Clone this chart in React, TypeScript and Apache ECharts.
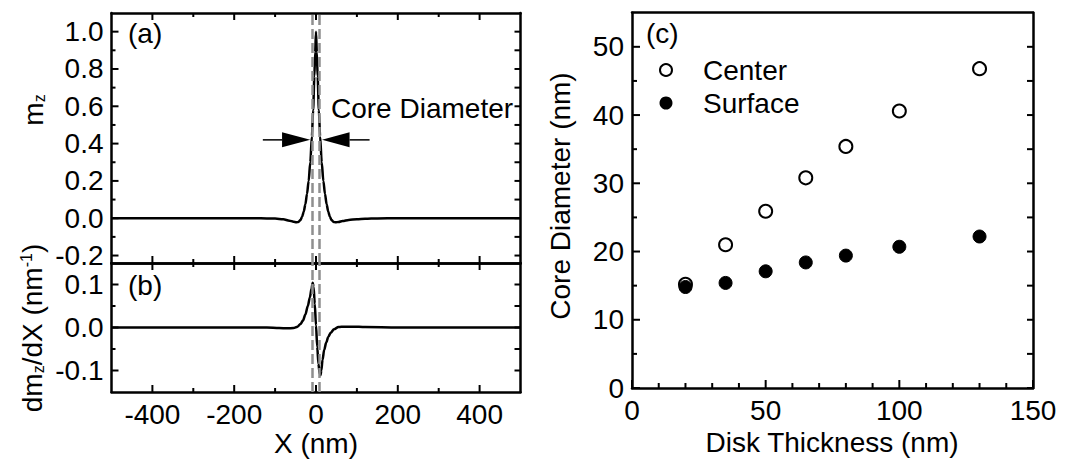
import React, { useEffect, useRef } from 'react';
import * as echarts from 'echarts';

// ---- data: panel (a) m_z profile ----
const profileX = [-500, -300, -200, -150, -120, -100, -80, -65, -55, -48, -43, -38, -34, -30, -26, -22, -18, -14, -10, -7, -4, -2, 0, 2, 4, 7, 10, 14, 18, 22, 26, 30, 34, 38, 43, 48, 55, 65, 80, 100, 120, 150, 200, 300, 500];
const mzValues = [0, 0, 0, 0, -0.001, -0.002, -0.006, -0.013, -0.019, -0.022, -0.02, -0.01, 0.008, 0.035, 0.075, 0.13, 0.2, 0.3, 0.44, 0.58, 0.76, 0.89, 1.0, 0.89, 0.76, 0.58, 0.44, 0.3, 0.2, 0.13, 0.075, 0.035, 0.008, -0.01, -0.02, -0.022, -0.02, -0.015, -0.009, -0.005, -0.003, -0.001, 0, 0, 0];

// ---- data: panel (b) dm_z/dX ----
const derivX = [-500, -200, -120, -90, -70, -55, -45, -38, -32, -26, -20, -15, -11, -8, -6, -3, 0, 3, 6, 9, 11, 13, 16, 20, 25, 30, 36, 44, 55, 70, 90, 120, 200, 500];
const dmzValues = [0, 0, 0, -0.001, -0.002, -0.001, 0.002, 0.008, 0.016, 0.03, 0.05, 0.07, 0.09, 0.104, 0.095, 0.055, 0.005, -0.045, -0.085, -0.108, -0.111, -0.1, -0.075, -0.052, -0.035, -0.022, -0.012, -0.004, 0.001, 0.002, 0.002, 0.001, 0, 0];

// dashed core boundary lines and arrows
const coreLinesX = [-9, 9];
const arrowLevel = 0.42;
const arrowTips = [-14, 14.7];
const arrowHeadBases = [-83, 82];
const arrowTails = [-130, 131];

// ---- data: panel (c) ----
const thickness = [20, 35, 50, 65, 80, 100, 130];
const centerDiameter = [15.2, 21.0, 25.9, 30.8, 35.4, 40.6, 46.8];
const surfaceDiameter = [14.8, 15.4, 17.1, 18.4, 19.4, 20.7, 22.2];

// ---- axis ranges ----
const xRangeAB = [-500, 500];
const mzRange = [-0.24, 1.1];
const dmzRange = [-0.15, 0.15];
const cXRange = [0, 150];
const cYRange = [0, 55];

// ---- tick values / labels ----
const xTicksMajor = [-400, -200, 0, 200, 400];
const xTicksMinor = [-300, -100, 100, 300];
const mzTicksMajor = [-0.2, 0, 0.2, 0.4, 0.6, 0.8, 1.0];
const mzTicksMinor = [-0.1, 0.1, 0.3, 0.5, 0.7, 0.9];
const dmzTicksMajor = [-0.1, 0, 0.1];
const dmzTicksMinor = [-0.05, 0.05];
const cXMajor = [0, 50, 100, 150];
const cXMinor = [10, 20, 30, 40, 60, 70, 80, 90, 110, 120, 130, 140];
const cYMajor = [0, 10, 20, 30, 40, 50];
const cYMinor = [5, 15, 25, 35, 45];

const FONT = "'Liberation Sans', Arial, Helvetica, sans-serif";
const FS = 28;

function mkAxis(gridIndex: number, position: string, range: number[], labels: number[] | null, digits: number) {
  return {
    type: 'value',
    gridIndex,
    position,
    min: range[0],
    max: range[1],
    axisLine: { show: true, onZero: false, lineStyle: { color: '#000', width: 2.5 } },
    splitLine: { show: false },
    axisTick: { show: false },
    axisLabel: labels
      ? { show: true, customValues: labels, fontSize: FS, fontFamily: FONT, color: '#000', margin: 8, formatter: (v: number) => v.toFixed(digits) }
      : { show: false },
  };
}

// tick spec: [gridIndex, direction (0 = x tick, 1 = y tick), value, length, sign (+1 inward from bottom/left, -1 from top/right), edge value]
type TickSpec = number[];
function tickItems(grid: number, values: number[], dir: number, len: number, sign: number, edge: number): TickSpec[] {
  return values.map((v) => [grid, dir, v, len, sign, edge]);
}

function tickRect(p: number[], dir: number, len: number, sign: number) {
  if (dir === 0) {
    return { type: 'rect', shape: { x: p[0] - 1, y: sign > 0 ? p[1] - len : p[1], width: 2, height: len }, style: { fill: '#000' } };
  }
  return { type: 'rect', shape: { x: sign > 0 ? p[0] : p[0] - len, y: p[1] - 1, width: len, height: 2 }, style: { fill: '#000' } };
}

export default function App() {
  const ref = useRef<HTMLDivElement>(null);
  useEffect(() => {
    if (!ref.current) return;
    const chart = echarts.init(ref.current, undefined, { renderer: 'svg' });
    const xAxis = [
      mkAxis(0, 'bottom', xRangeAB, null, 0),
      mkAxis(0, 'top', xRangeAB, null, 0),
      mkAxis(1, 'bottom', xRangeAB, xTicksMajor, 0),
      mkAxis(1, 'top', xRangeAB, null, 0),
      mkAxis(2, 'bottom', cXRange, cXMajor, 0),
      mkAxis(2, 'top', cXRange, null, 0),
    ];
    const yAxis = [
      mkAxis(0, 'left', mzRange, mzTicksMajor, 1),
      mkAxis(0, 'right', mzRange, null, 1),
      mkAxis(1, 'left', dmzRange, dmzTicksMajor, 1),
      mkAxis(1, 'right', dmzRange, null, 1),
      mkAxis(2, 'left', cYRange, cYMajor, 0),
      mkAxis(2, 'right', cYRange, null, 0),
    ];
    const MAJ = 7, MIN = 4, RT = 6;
    const ticks: TickSpec[] = [
      ...tickItems(0, xTicksMajor, 0, MAJ, 1, mzRange[0]), ...tickItems(0, xTicksMajor, 0, MAJ, -1, mzRange[1]),
      ...tickItems(0, xTicksMinor, 0, MIN, 1, mzRange[0]), ...tickItems(0, xTicksMinor, 0, MIN, -1, mzRange[1]),
      ...tickItems(0, mzTicksMajor, 1, MAJ, 1, xRangeAB[0]), ...tickItems(0, mzTicksMinor, 1, MIN, 1, xRangeAB[0]),
      ...tickItems(0, mzTicksMajor, 1, RT, -1, xRangeAB[1]), ...tickItems(0, mzTicksMinor, 1, RT, -1, xRangeAB[1]),
      ...tickItems(1, xTicksMajor, 0, MAJ, 1, dmzRange[0]), ...tickItems(1, xTicksMajor, 0, MAJ, -1, dmzRange[1]),
      ...tickItems(1, xTicksMinor, 0, MIN, 1, dmzRange[0]), ...tickItems(1, xTicksMinor, 0, MIN, -1, dmzRange[1]),
      ...tickItems(1, dmzTicksMajor, 1, MAJ, 1, xRangeAB[0]), ...tickItems(1, dmzTicksMinor, 1, MIN, 1, xRangeAB[0]),
      ...tickItems(1, dmzTicksMajor, 1, RT, -1, xRangeAB[1]), ...tickItems(1, dmzTicksMinor, 1, RT, -1, xRangeAB[1]),
      ...tickItems(2, cXMajor, 0, 8, 1, cYRange[0]), ...tickItems(2, cXMinor, 0, 5, 1, cYRange[0]),
      ...tickItems(2, cYMajor, 1, 8, 1, cXRange[0]), ...tickItems(2, cYMinor, 1, 5, 1, cXRange[0]),
      ...tickItems(2, cYMajor, 1, RT, -1, cXRange[1]), ...tickItems(2, cYMinor, 1, RT, -1, cXRange[1]),
    ];
    const gridBase = { show: false, containLabel: false };
    const dashed = {
      silent: true,
      symbol: ['none', 'none'],
      label: { show: false },
      lineStyle: { color: '#8f8f8f', type: [10, 4], width: 2.5 },
      data: coreLinesX.map((x) => ({ xAxis: x })),
    };
    const arrowData = arrowTips.map((t, i) => [t, arrowHeadBases[i], arrowTails[i], arrowLevel]);
    const sub = { fontSize: 16, fontFamily: FONT, lineHeight: 16, padding: [16, 0, 0, 0], verticalAlign: 'bottom', fill: '#000' };
    const norm = { fontSize: FS, fontFamily: FONT, lineHeight: 28, verticalAlign: 'top', fill: '#000' };
    const sup = { fontSize: 16, fontFamily: FONT, lineHeight: 16, verticalAlign: 'top', fill: '#000' };
    const baseGraphic: any[] = [
      { type: 'text', x: 128, y: 33, style: { text: '(a)', fontSize: FS, fontFamily: FONT, fill: '#000', verticalAlign: 'middle' } },
      { type: 'text', x: 128, y: 285, style: { text: '(b)', fontSize: FS, fontFamily: FONT, fill: '#000', verticalAlign: 'middle' } },
      { type: 'text', x: 646, y: 33, style: { text: '(c)', fontSize: FS, fontFamily: FONT, fill: '#000', verticalAlign: 'middle' } },
      { type: 'text', x: 331, y: 108, style: { text: 'Core Diameter', fontSize: FS, fontFamily: FONT, fill: '#000', verticalAlign: 'middle' } },
      { type: 'circle', shape: { cx: 666, cy: 70, r: 6 }, style: { fill: '#fff', stroke: '#000', lineWidth: 2 } },
      { type: 'circle', shape: { cx: 666, cy: 103, r: 6.5 }, style: { fill: '#000' } },
      { type: 'text', x: 703, y: 70, style: { text: 'Center', fontSize: FS, fontFamily: FONT, fill: '#000', verticalAlign: 'middle' } },
      { type: 'text', x: 703, y: 103, style: { text: 'Surface', fontSize: FS, fontFamily: FONT, fill: '#000', verticalAlign: 'middle' } },
      { type: 'text', x: 316, y: 443, style: { text: 'X (nm)', fontSize: FS, fontFamily: FONT, fill: '#000', align: 'center', verticalAlign: 'middle' } },
      { type: 'text', x: 832, y: 442, style: { text: 'Disk Thickness (nm)', fontSize: FS, fontFamily: FONT, fill: '#000', align: 'center', verticalAlign: 'middle' } },
      { type: 'text', x: 560, y: 196, rotation: Math.PI / 2, style: { text: 'Core Diameter (nm)', fontSize: FS, fontFamily: FONT, fill: '#000', align: 'center', verticalAlign: 'middle' } },
      {
        type: 'text', x: 33, y: 110, rotation: Math.PI / 2,
        style: { text: '{n|m}{s|z}', align: 'center', verticalAlign: 'middle', fill: '#000', rich: { n: norm, s: sub } },
      },
      {
        type: 'text', x: 32, y: 328, rotation: Math.PI / 2,
        style: { text: '{n|dm}{s|z}{n|/dX (nm}{p|-1}{n|)}', align: 'center', verticalAlign: 'middle', fill: '#000', rich: { n: norm, s: sub, p: sup } },
      },
    ];
    const option: any = {
      animation: false,
      backgroundColor: '#fff',
      grid: [
        { ...gridBase, left: 111.5, width: 409, top: 13, height: 250 },
        { ...gridBase, left: 111.5, width: 409, top: 263, height: 129 },
        { ...gridBase, left: 632, width: 401, top: 12.7, height: 375.3 },
      ],
      xAxis,
      yAxis,
      series: [
        {
          type: 'line', name: 'mz', xAxisIndex: 0, yAxisIndex: 0,
          data: profileX.map((x, i) => [x, mzValues[i]]),
          showSymbol: false, smooth: 0.3, smoothMonotone: 'x',
          lineStyle: { color: '#000', width: 2.5 },
          markLine: dashed,
        },
        {
          type: 'custom', name: 'arrows', xAxisIndex: 0, yAxisIndex: 0, clip: false,
          data: arrowData,
          encode: { x: 0, y: 3 },
          renderItem: (params: any, api: any) => {
            const y = api.value(3);
            const tip = api.coord([api.value(0), y]);
            const base = api.coord([api.value(1), y]);
            const tail = api.coord([api.value(2), y]);
            return {
              type: 'group',
              children: [
                { type: 'line', shape: { x1: tail[0], y1: tail[1], x2: base[0], y2: base[1] }, style: { stroke: '#000', lineWidth: 1.5 } },
                { type: 'polygon', shape: { points: [tip, [base[0], base[1] - 7.5], [base[0], base[1] + 7.5]] }, style: { fill: '#000' } },
              ],
            };
          },
        },
        {
          type: 'line', name: 'dmz', xAxisIndex: 2, yAxisIndex: 2,
          data: derivX.map((x, i) => [x, dmzValues[i]]),
          showSymbol: false, smooth: 0.3, smoothMonotone: 'x',
          lineStyle: { color: '#000', width: 2.5 },
          markLine: dashed,
        },
        {
          type: 'scatter', name: 'Center', xAxisIndex: 4, yAxisIndex: 4,
          data: thickness.map((t, i) => [t, centerDiameter[i]]),
          symbol: 'circle', symbolSize: 13,
          itemStyle: { color: '#fff', borderColor: '#000', borderWidth: 2, opacity: 1 },
        },
        {
          type: 'scatter', name: 'Surface', xAxisIndex: 4, yAxisIndex: 4,
          data: thickness.map((t, i) => [t, surfaceDiameter[i]]),
          symbol: 'circle', symbolSize: 13,
          itemStyle: { color: '#000', borderColor: '#000', borderWidth: 1, opacity: 1 },
        },
      ],
      graphic: baseGraphic,
    };
    chart.setOption(option);
    // tick marks placed through the library's own axis scales
    try {
      const tickGraphics: any[] = [];
      ticks.forEach((t) => {
        const [grid, dir, v, len, sign, edge] = t;
        const p = chart.convertToPixel({ gridIndex: grid } as any, dir === 0 ? [v, edge] : [edge, v]) as any;
        if (p && isFinite(p[0]) && isFinite(p[1])) tickGraphics.push(tickRect(p, dir, len, sign));
      });
      chart.setOption({ graphic: [...baseGraphic, ...tickGraphics] });
    } catch (e) {
      // keep the chart without ticks if conversion fails
    }
    return () => chart.dispose();
  }, []);
  return <div ref={ref} style={{ position: 'absolute', left: 0, top: 0, width: 1072, height: 471 }} />;
}
